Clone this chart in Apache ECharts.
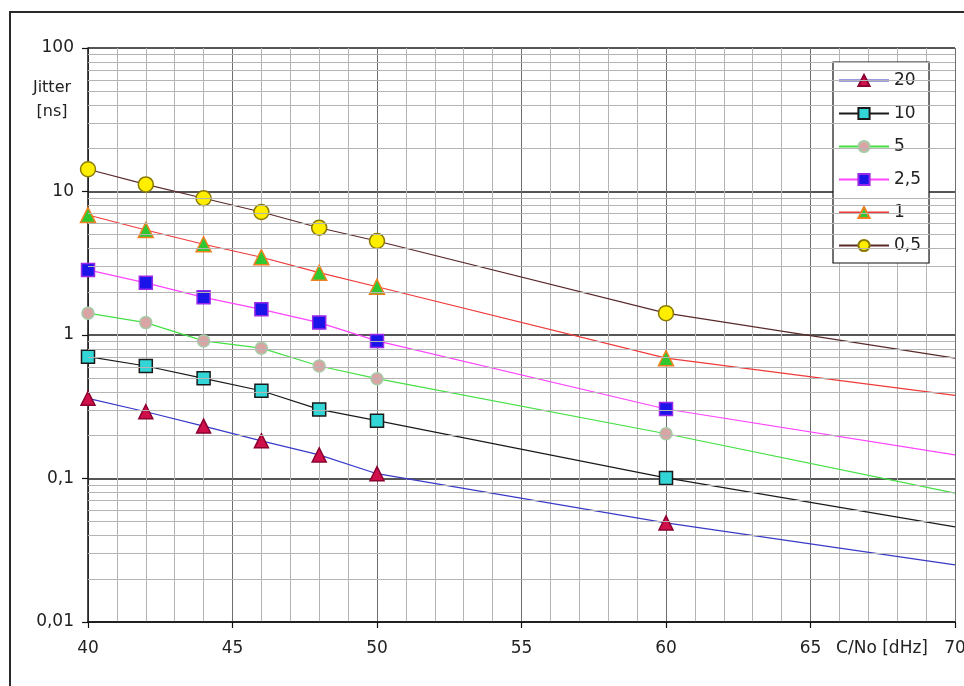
<!DOCTYPE html>
<html>
<head>
<meta charset="utf-8">
<script src="https://cdn.jsdelivr.net/npm/echarts@6/dist/echarts.min.js"></script>
<style>
  html, body { margin: 0; padding: 0; background: #fff; overflow: hidden; }
  #chart { width: 964px; height: 686px; }
</style>
</head>
<body>
<div id="chart"></div>
<script>
// ---- data ----
const cnoValues = [40, 42, 44, 46, 48, 50, 60, 70];
const markedPoints = 7; // first 7 points carry markers; the value at 70 is the line end

const seriesNames = ['20', '10', '5', '2,5', '1', '0,5'];
const jitter20  = [0.362, 0.292, 0.232, 0.183, 0.146, 0.108, 0.049, 0.025];
const jitter10  = [0.706, 0.608, 0.499, 0.409, 0.303, 0.253, 0.101, 0.046];
const jitter5   = [1.42, 1.22, 0.91, 0.81, 0.608, 0.496, 0.205, 0.079];
const jitter2_5 = [2.84, 2.31, 1.83, 1.51, 1.22, 0.91, 0.305, 0.146];
const jitter1   = [6.86, 5.39, 4.29, 3.48, 2.72, 2.17, 0.69, 0.38];
const jitter0_5 = [14.3, 11.2, 8.97, 7.2, 5.59, 4.52, 1.42, 0.69];

const yTickValues = [0.01, 0.1, 1, 10, 100];
const yTickLabels = ['0,01', '0,1', '1', '10', '100'];
const yMinorMultipliers = [2, 3, 4, 5, 6, 7, 8, 9];
const xAxisName = 'C/No [dHz]';
const yAxisName = 'Jitter\n[ns]';

// ---- styling ----
const FONT = 'DejaVu Sans';
const styles = [
  { line: '#3a3ac8', symbol: 'triangle', size: 14, fill: '#d0104a', border: '#8a0030' },
  { line: '#1a1a1a', symbol: 'rect',     size: 13, fill: '#33d6d6', border: '#1a1a1a' },
  { line: '#44e044', symbol: 'circle',   size: 12, fill: '#d8a4a4', border: '#a8cca8' },
  { line: '#ff44ff', symbol: 'rect',     size: 13, fill: '#1a14e8', border: '#9a28e8' },
  { line: '#f03a3a', symbol: 'triangle', size: 15, fill: '#30c830', border: '#f08020' },
  { line: '#5a2a2a', symbol: 'circle',   size: 15, fill: '#ffee00', border: '#8a7a00' }
];
const allValues = [jitter20, jitter10, jitter5, jitter2_5, jitter1, jitter0_5];

function makeData(vals) {
  return cnoValues.map((x, i) => {
    const item = { value: [x, vals[i]] };
    if (i >= markedPoints) item.symbol = 'none';
    return item;
  });
}

const series = seriesNames.map((name, k) => ({
  name: name,
  type: 'line',
  z: 3,
  data: makeData(allValues[k]),
  symbol: styles[k].symbol,
  symbolSize: styles[k].size,
  showAllSymbol: true,
  smooth: false,
  lineStyle: { color: styles[k].line, width: 1.2 },
  itemStyle: { color: styles[k].fill, borderColor: styles[k].border, borderWidth: 1.5 },
  emphasis: { disabled: true },
  animation: false
}));

// minor horizontal gridlines (2..9 within each decade)
const yMinorLines = [];
for (let d = 0; d < yTickValues.length - 1; d++) {
  yMinorMultipliers.forEach(m => {
    yMinorLines.push({ yAxis: +(yTickValues[d] * m).toPrecision(3) });
  });
}
series.unshift({
  name: 'minorGrid',
  type: 'line',
  z: 1,
  data: [],
  silent: true,
  animation: false,
  markLine: {
    silent: true,
    symbol: 'none',
    animation: false,
    label: { show: false },
    lineStyle: { color: '#b4b4b4', width: 1, type: 'solid' },
    emphasis: { disabled: true },
    data: yMinorLines
  }
});

const chart = echarts.init(document.getElementById('chart'), null, { renderer: 'canvas', width: 964, height: 686 });
chart.setOption({
  animation: false,
  backgroundColor: '#ffffff',
  textStyle: { fontFamily: FONT },
  graphic: [{
    type: 'rect',
    silent: true,
    z: -10,
    shape: { x: 10, y: 12, width: 1100, height: 1000 },
    style: { fill: 'none', stroke: '#2a2a2a', lineWidth: 2 }
  }],
  grid: { left: 88, right: 9, top: 48, bottom: 64, containLabel: false, outerBoundsMode: 'none' },
  legend: {
    data: seriesNames,
    orient: 'vertical',
    left: 833,
    top: 62,
    padding: [10, 8, 9, 5],
    itemGap: 16,
    itemWidth: 50,
    itemHeight: 14,
    backgroundColor: '#ffffff',
    borderColor: '#111',
    borderWidth: 1.2,
    borderRadius: 0,
    textStyle: { fontFamily: FONT, fontSize: 17, color: '#222' },
    selectedMode: false
  },
  xAxis: {
    type: 'value',
    min: 40,
    max: 70,
    interval: 5,
    name: xAxisName,
    nameLocation: 'end',
    nameGap: -27,
    nameTextStyle: { fontFamily: FONT, fontSize: 17, color: '#222', align: 'right', verticalAlign: 'top', padding: [18, 0, 0, 0] },
    axisLine: { show: true, onZero: false, lineStyle: { color: '#111', width: 1.5 } },
    axisTick: { show: true, inside: false, length: 6, lineStyle: { color: '#111', width: 1.2 } },
    axisLabel: { fontFamily: FONT, fontSize: 17, color: '#222', margin: 18 },
    splitLine: { show: true, lineStyle: { color: '#6e6e6e', width: 1 } },
    minorTick: { show: false, splitNumber: 5 },
    minorSplitLine: { show: true, lineStyle: { color: '#b4b4b4', width: 1 } }
  },
  yAxis: {
    type: 'log',
    logBase: 10,
    min: 0.01,
    max: 100,
    name: yAxisName,
    nameLocation: 'end',
    nameGap: -52,
    nameTextStyle: { fontFamily: FONT, fontSize: 16, color: '#222', align: 'center', verticalAlign: 'middle', lineHeight: 24, padding: [0, 0, 0, -72] },
    axisLine: { show: true, onZero: false, lineStyle: { color: '#111', width: 1.5 } },
    axisTick: { show: true, inside: false, length: 6, lineStyle: { color: '#111', width: 1.2 } },
    axisLabel: {
      fontFamily: FONT, fontSize: 17, color: '#222', margin: 14,
      formatter: function (v) {
        for (let i = 0; i < yTickValues.length; i++) {
          if (Math.abs(Math.log10(v) - Math.log10(yTickValues[i])) < 1e-6) return yTickLabels[i];
        }
        return '';
      }
    },
    splitLine: { show: true, lineStyle: { color: '#1e1e1e', width: 1.5 } }
  },
  series: series
});
</script>
</body>
</html>
